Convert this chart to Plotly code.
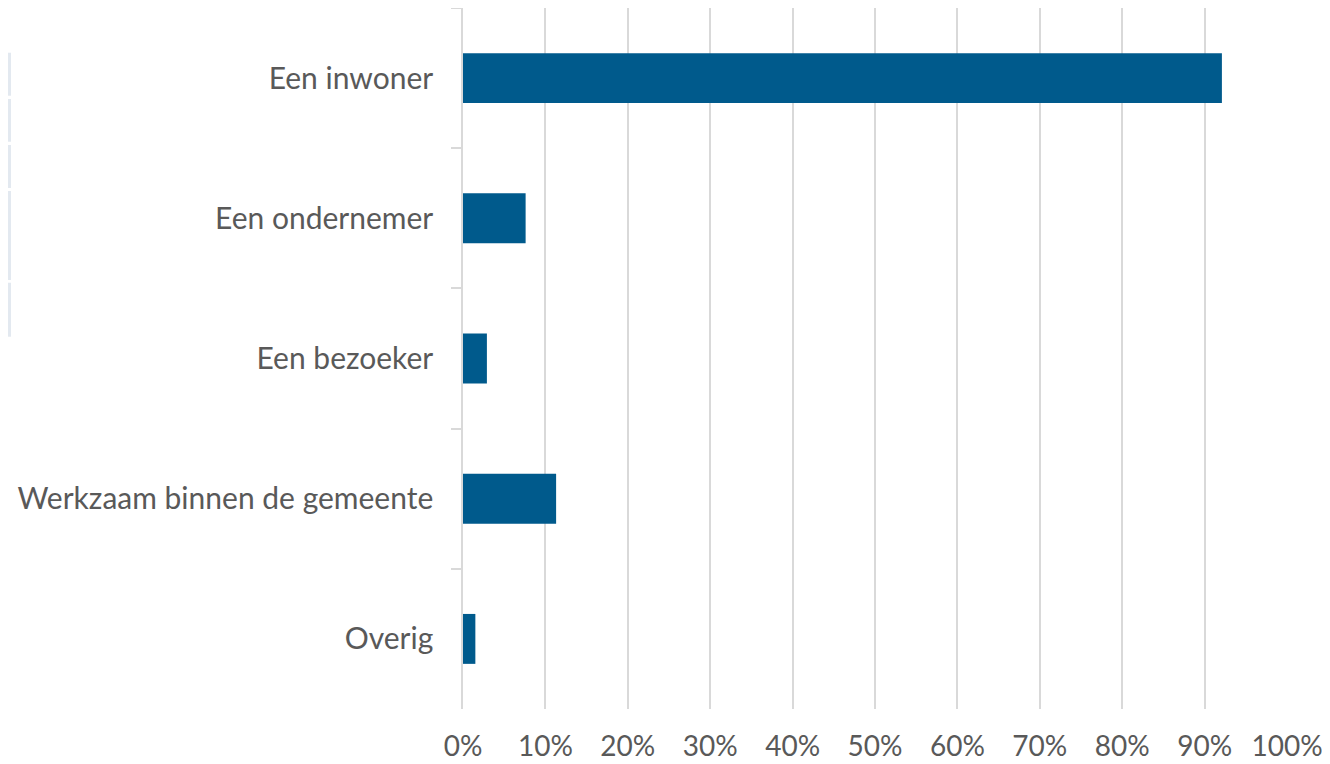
import plotly.graph_objects as go

categories = ["Een inwoner", "Een ondernemer", "Een bezoeker", "Werkzaam binnen de gemeente", "Overig"]
values = [0.921, 0.076, 0.029, 0.113, 0.015]
tick_vals = [0, 0.1, 0.2, 0.3, 0.4, 0.5, 0.6, 0.7, 0.8, 0.9, 1.0]
tick_text = ["0%", "10%", "20%", "30%", "40%", "50%", "60%", "70%", "80%", "90%", "100%"]

BAR = "#005a8c"
GRID = "#d9d9d9"
TXT = "#595959"
FONT = "Lato, Carlito, Calibri, sans-serif"

fig = go.Figure(go.Bar(
    x=values, y=categories, orientation="h",
    marker=dict(color=BAR, line=dict(width=0)),
    width=0.356,
    hoverinfo="skip",
))

# page body has an 8px margin; target plot area in window px:
# left 463, right 1287, top 8, bottom 709
OFF = 8
L, R, T, B = 463 - OFF, 1287 - OFF, 8 - OFF, 709 - OFF
W, H = 1330 - OFF, 764 - OFF

# faint artifacts at the far left edge (window px)
segs = [(52.7, 95.7), (99, 141.7), (145, 188), (191, 280), (282.7, 336.7)]
shapes = []
for y0, y1 in segs:
    y0 -= OFF
    y1 -= OFF
    shapes.append(dict(
        type="rect", xref="paper", yref="paper",
        x0=(0 - L) / (R - L), x1=(3 - L) / (R - L),
        y0=(B - y1) / (B - T), y1=(B - y0) / (B - T),
        fillcolor="#e3e9f0", line=dict(width=0), layer="below",
    ))

fig.update_layout(
    width=W, height=H,
    margin=dict(l=L, r=W - R, t=T, b=H - B, pad=0, autoexpand=False),
    paper_bgcolor="white", plot_bgcolor="white",
    showlegend=False,
    font=dict(family=FONT, size=30, color=TXT),
    bargap=0.644,
    shapes=shapes,
    xaxis=dict(
        range=[0, 1.0], tickvals=tick_vals, ticktext=tick_text,
        showgrid=True, gridcolor=GRID, gridwidth=1.5,
        zeroline=False, showline=False, automargin=False,
        ticks="outside", ticklen=12, tickcolor="rgba(0,0,0,0)",
        tickfont=dict(family=FONT, size=28, color=TXT),
        fixedrange=True,
    ),
    yaxis=dict(
        autorange="reversed", type="category", automargin=False,
        showgrid=False, zeroline=False,
        showline=True, linecolor=GRID, linewidth=1.5,
        ticks="outside", tickson="boundaries", ticklen=10, tickcolor=GRID, tickwidth=1.5,
        ticklabelstandoff=22,
        tickfont=dict(family=FONT, size=30, color=TXT),
        fixedrange=True,
    ),
)

fig.write_html("out.html")
